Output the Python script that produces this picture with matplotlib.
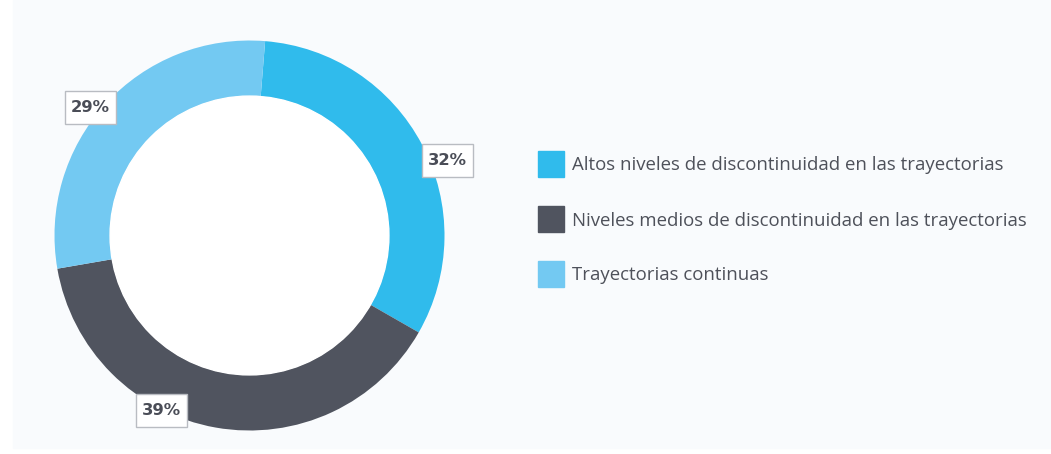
import matplotlib.pyplot as plt
from matplotlib.patches import Rectangle

categories = [
    "Altos niveles de discontinuidad en las trayectorias",
    "Niveles medios de discontinuidad en las trayectorias",
    "Trayectorias continuas",
]
values = [32, 39, 29]
colors = ["#30bbec", "#50545f", "#73c9f2"]

# label spots in pie-radius units (Highcharts-style outside labels)
label_pos = [(1.015, 0.385), (-0.45, -0.895), (-0.815, 0.655)]

plt.rcParams['font.family'] = ['Open Sans', 'DejaVu Sans']

W, H = 1051, 454
fig = plt.figure(figsize=(W / 100, H / 100), dpi=100, facecolor="white")
fig.patches.append(Rectangle((13 / W, 6 / H), 1 - 13 / W, 1 - 6 / H,
                             transform=fig.transFigure, color="#f9fbfd", zorder=-5))

# pie axes: center (249.5, 235.5) px, outer radius 195 px
cx, cy, R = 249.5, 235.5, 195
half = 200
ax = fig.add_axes([(cx - half) / W, (H - cy - half) / H, 2 * half / W, 2 * half / H])
ax.set_facecolor("none")
wedges, _ = ax.pie(values, colors=colors, startangle=85.4, counterclock=False,
                   radius=1, wedgeprops=dict(width=0.285, linewidth=0))
ax.set_xlim(-half / R, half / R)
ax.set_ylim(-half / R, half / R)
ax.set_aspect("equal")
ax.axis("off")
# white hole
ax.add_patch(plt.Circle((0, 0), 0.715, color="white", zorder=3))

bw, bh = 51 / R, 33 / R
for v, (x, y) in zip(values, label_pos):
    ax.add_patch(Rectangle((x - bw / 2, y - bh / 2), bw, bh, facecolor="white",
                           edgecolor="#b9bcc2", linewidth=1, zorder=4,
                           clip_on=False))
    ax.text(x, y, f"{v}%", ha="center", va="center", fontsize=11.8,
            family="DejaVu Sans",
            fontweight="bold", color="#4a4d57", zorder=5)

# legend, drawn by hand for exact square sizes
row0, step, sq = 163.5, 55, 26
for i, (w, lab) in enumerate(zip(wedges, categories)):
    yc = row0 + i * step
    fig.patches.append(Rectangle((538 / W, (H - yc - sq / 2) / H), sq / W, sq / H,
                                 transform=fig.transFigure,
                                 color=w.get_facecolor(), zorder=2))
    fig.text(572 / W, (H - yc) / H, lab, ha="left", va="center_baseline",
             fontsize=13.4, color="#4e515a")

fig.savefig("out.png", dpi=100, facecolor=fig.get_facecolor())
